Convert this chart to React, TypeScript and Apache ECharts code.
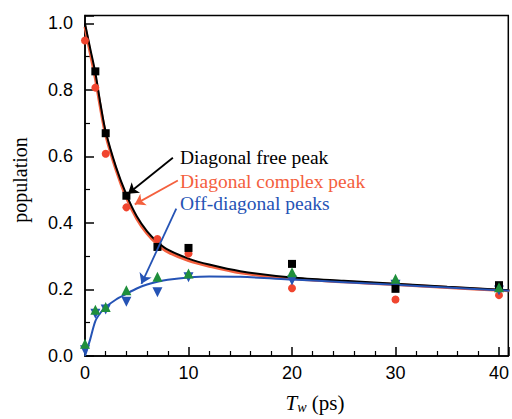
import React, { useEffect, useRef } from "react";
import * as echarts from "echarts";

// Measured waiting times (ps)
const tw = [0, 1, 2, 4, 7, 10, 20, 30, 40];
// Data points
const freePeak: (number | null)[] = [null, 0.856, 0.67, 0.482, 0.328, 0.325, 0.277, 0.202, 0.213];
const complexPeak = [0.949, 0.807, 0.608, 0.447, 0.352, 0.308, 0.204, 0.17, 0.183];
const offUp = [0.037, 0.139, 0.147, 0.198, 0.238, 0.248, 0.252, 0.232, 0.207];
const offDown = [0.017, 0.127, 0.14, 0.163, 0.192, 0.237, 0.227, 0.214, 0.197];

// Fit curves
const curveX = [0, 0.5, 1, 1.5, 2, 3, 4, 5, 6, 7, 8, 10, 12, 15, 20, 25, 30, 35, 41];
const freeFit = [1.0, 0.925, 0.852, 0.757, 0.675, 0.568, 0.485, 0.42, 0.375, 0.343, 0.32, 0.293, 0.275, 0.255, 0.236, 0.226, 0.217, 0.208, 0.198];
const complexFit = [0.99, 0.912, 0.835, 0.745, 0.665, 0.56, 0.476, 0.413, 0.368, 0.336, 0.313, 0.287, 0.27, 0.25, 0.233, 0.223, 0.215, 0.206, 0.196];
const offFit = [0.0, 0.05, 0.105, 0.13, 0.147, 0.17, 0.187, 0.203, 0.215, 0.223, 0.229, 0.236, 0.239, 0.238, 0.23, 0.222, 0.214, 0.206, 0.196];

// Axis ticks
const xTicks = [0, 10, 20, 30, 40];
const yTicks = [0, 0.2, 0.4, 0.6, 0.8, 1.0];

// Annotation labels and arrows (data coordinates: [start, tip])
const labels = ["Diagonal free peak", "Diagonal complex peak", "Off-diagonal peaks"];
const arrowFree = [[8.49, 0.596], [4.16, 0.488]];
const arrowComplex = [[8.97, 0.528], [4.81, 0.456]];
const arrowOff = [[8.82, 0.443], [5.45, 0.217]];

const BLACK = "#000000";
const RED = "#f0452f";
const RED_LINE = "#f4603e";
const GREEN = "#1f8f3c";
const BLUE = "#2553b5";

const pair = (xs: number[], ys: (number | null)[]) =>
  xs.map((x, i) => (ys[i] == null ? null : [x, ys[i] as number])).filter((d) => d !== null);

export default function App() {
  const ref = useRef<HTMLDivElement>(null);
  useEffect(() => {
    if (!ref.current) return;
    const chart = echarts.init(ref.current, undefined, { renderer: "svg" });
    const sans = "Liberation Sans, Arial, sans-serif";
    const serif = "Liberation Serif, Times New Roman, serif";
    const axisCommon = {
      type: "value" as const,
      splitLine: { show: false },
      axisLine: { show: true, lineStyle: { color: "#000", width: 1.5 } },
      axisTick: { show: true, inside: true, length: 9, lineStyle: { color: "#000", width: 1.5 } },
    };
    chart.setOption({
      animation: false,
      backgroundColor: "#ffffff",
      grid: { left: 85, right: 1, top: 15.5, bottom: 63, show: true, borderColor: "#000", borderWidth: 1.5 },
      xAxis: {
        ...axisCommon,
        min: 0,
        max: 40.9,
        interval: 10,
        minorTick: { show: true, splitNumber: 5, length: 5, lineStyle: { color: "#000", width: 1.2 } },
        axisLabel: {
          fontSize: 18,
          color: "#000",
          fontFamily: sans,
          margin: 8,
          formatter: (v: number) => (xTicks.some((t) => Math.abs(t - v) < 1e-6) ? String(v) : ""),
        },
      },
      yAxis: {
        ...axisCommon,
        min: 0,
        max: 1.024,
        interval: 0.2,
        minorTick: { show: true, splitNumber: 2, length: 5, lineStyle: { color: "#000", width: 1.2 } },
        axisLabel: {
          fontSize: 18,
          color: "#000",
          fontFamily: sans,
          margin: 12,
          formatter: (v: number) => (yTicks.some((t) => Math.abs(t - v) < 1e-6) ? v.toFixed(1) : ""),
        },
      },
      series: [
        { type: "line", data: pair(curveX, complexFit), smooth: 0.3, showSymbol: false, lineStyle: { color: RED_LINE, width: 3 }, z: 2 },
        { type: "line", data: pair(curveX, freeFit), smooth: 0.3, showSymbol: false, lineStyle: { color: BLACK, width: 2 }, z: 3 },
        { type: "line", data: pair(curveX, offFit), smooth: 0.3, showSymbol: false, lineStyle: { color: BLUE, width: 2 }, z: 3 },
        { type: "scatter", data: pair(tw, complexPeak), symbol: "circle", symbolSize: 8, itemStyle: { color: RED, opacity: 1 }, z: 4 },
        { type: "scatter", data: pair(tw, freePeak), symbol: "rect", symbolSize: 8, itemStyle: { color: BLACK, opacity: 1 }, z: 5 },
        { type: "scatter", data: pair(tw, offDown), symbol: "triangle", symbolRotate: 180, symbolSize: 10, itemStyle: { color: BLUE, opacity: 1 }, z: 4 },
        { type: "scatter", data: pair(tw, offUp), symbol: "triangle", symbolSize: 10, itemStyle: { color: GREEN, opacity: 1 }, z: 5 },
        {
          type: "lines",
          coordinateSystem: "cartesian2d",
          symbol: ["none", "arrow"],
          symbolSize: 10,
          z: 6,
          data: [
            { coords: arrowFree, lineStyle: { color: BLACK, width: 1.8, opacity: 1 } },
            { coords: arrowComplex, lineStyle: { color: RED_LINE, width: 1.8, opacity: 1 } },
            { coords: arrowOff, lineStyle: { color: BLUE, width: 1.8, opacity: 1 } },
          ],
        },
      ],
      graphic: [
        { type: "text", x: 180, y: 157, style: { text: labels[0], fill: BLACK, font: `19.5px ${serif}`, verticalAlign: "middle" } },
        { type: "text", x: 180, y: 181, style: { text: labels[1], fill: RED_LINE, font: `19.5px ${serif}`, verticalAlign: "middle" } },
        { type: "text", x: 180, y: 203, style: { text: labels[2], fill: BLUE, font: `19.5px ${serif}`, verticalAlign: "middle" } },
        {
          type: "text",
          x: 20,
          y: 180,
          rotation: Math.PI / 2,
          style: { text: "population", fill: "#000", font: `20px ${serif}`, align: "center", verticalAlign: "middle" },
        },
        {
          type: "text",
          x: 315,
          y: 403,
          style: {
            text: "{i|T}{s|w}{n| (ps)}",
            align: "center",
            verticalAlign: "middle",
            rich: {
              i: { fontFamily: serif, fontStyle: "italic", fontSize: 21, fill: "#000" },
              s: { fontFamily: serif, fontStyle: "italic", fontSize: 14, fill: "#000", padding: [8, 0, 0, 0] },
              n: { fontFamily: serif, fontSize: 21, fill: "#000" },
            },
          },
        },
      ],
    });
    return () => chart.dispose();
  }, []);
  return <div ref={ref} style={{ position: "fixed", left: 0, top: 0, width: 512, height: 419 }} />;
}
